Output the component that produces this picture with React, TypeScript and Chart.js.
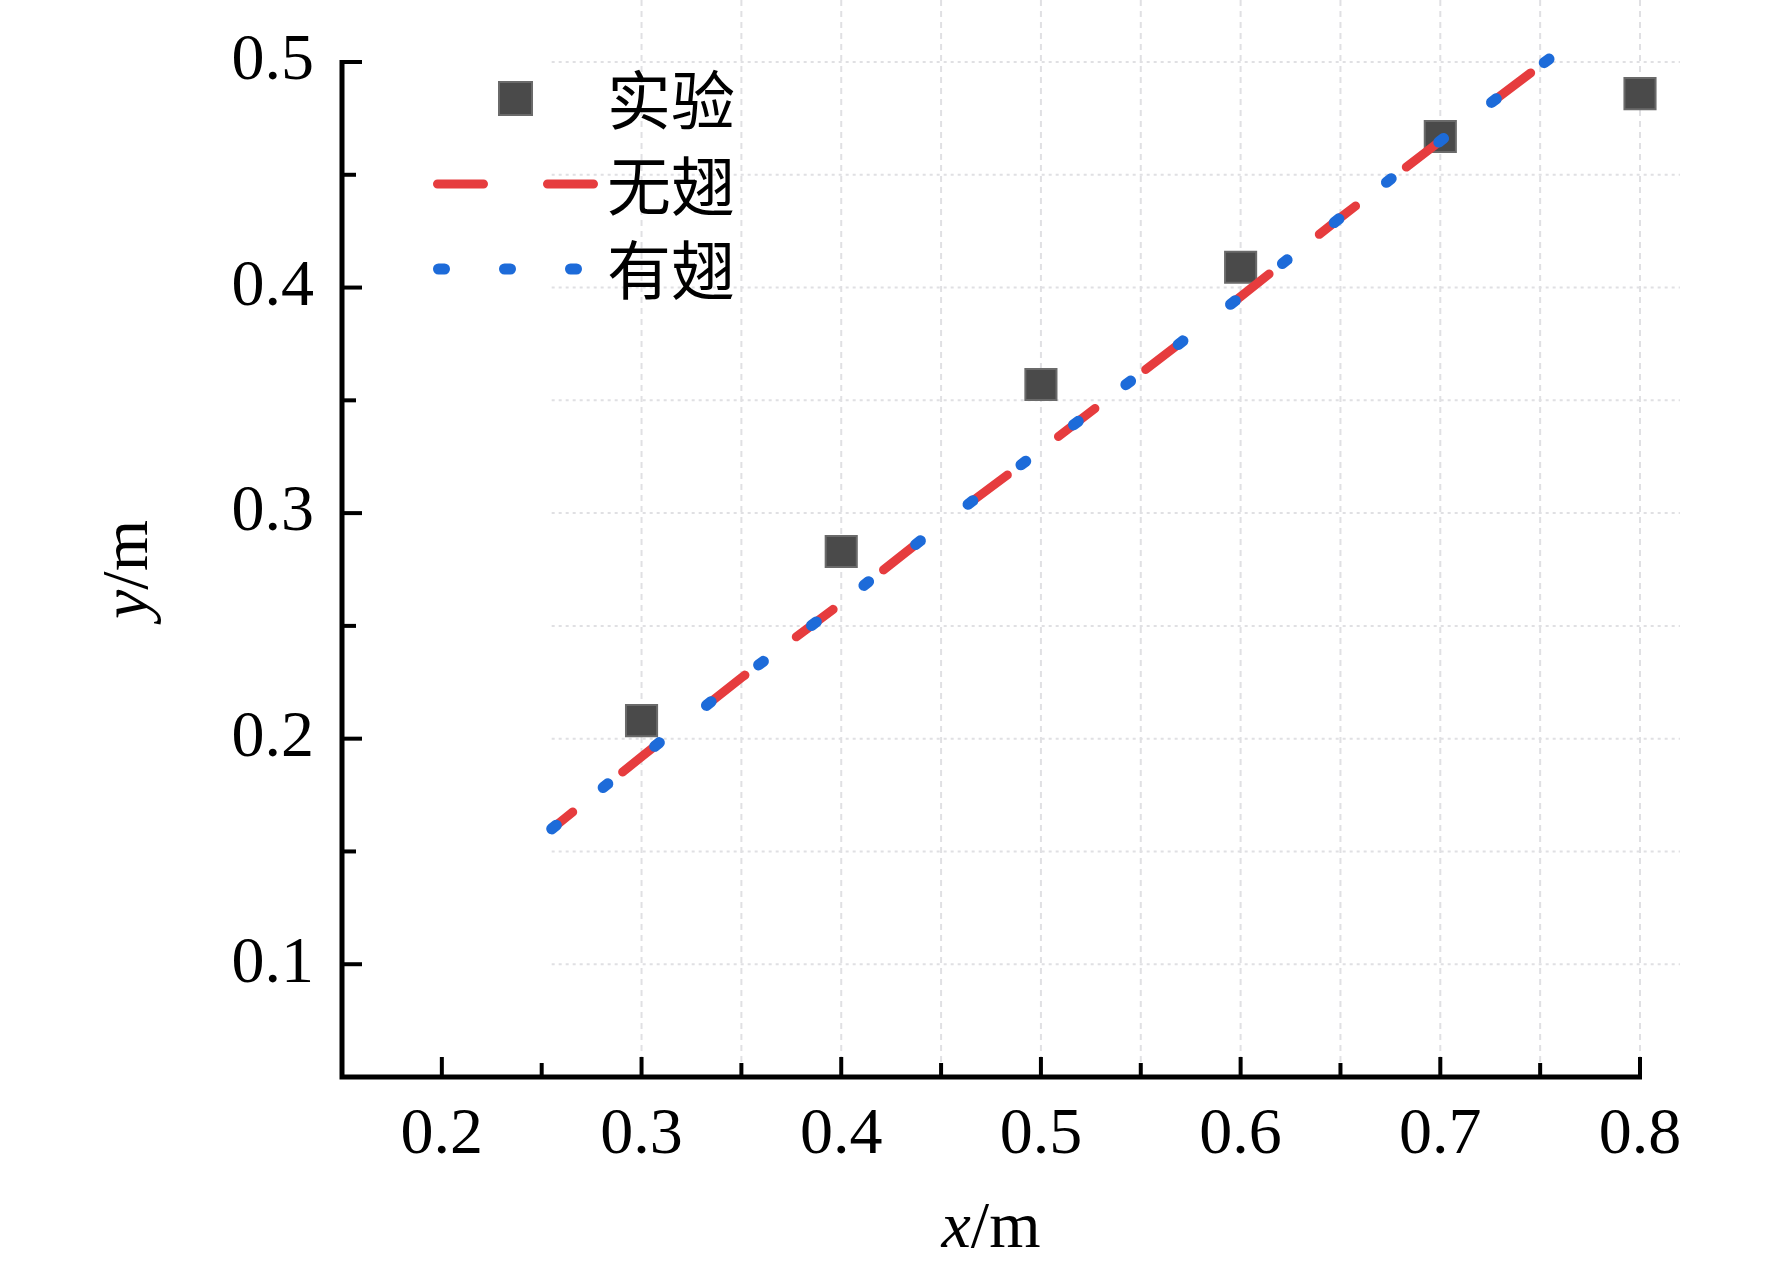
import { useEffect, useRef } from 'react';
import { Chart, registerables } from 'chart.js';

Chart.register(...registerables);

// measured points (x/m, y/m)
const expX = [0.3, 0.4, 0.5, 0.6, 0.7, 0.8];
const expY = [0.208, 0.283, 0.357, 0.409, 0.467, 0.486];

// simulated trajectories
const simX = [0.255, 0.3, 0.35, 0.4, 0.45, 0.5, 0.55, 0.6, 0.65, 0.7, 0.757];
const noWingY = [0.16, 0.192, 0.227, 0.26, 0.295, 0.328, 0.362, 0.396, 0.431, 0.465, 0.503];
const wingY = [0.16, 0.192, 0.227, 0.26, 0.295, 0.328, 0.362, 0.396, 0.431, 0.465, 0.503];

const seriesNames = ['实验', '无翅', '有翅'];

const xMajor = [0.2, 0.3, 0.4, 0.5, 0.6, 0.7, 0.8];
const xMinor = [0.25, 0.35, 0.45, 0.55, 0.65, 0.75];
const yMajor = [0.1, 0.2, 0.3, 0.4, 0.5];
const yMinor = [0.15, 0.25, 0.35, 0.45];
const gridX = [0.3, 0.35, 0.4, 0.45, 0.5, 0.55, 0.6, 0.65, 0.7, 0.75, 0.8];
const gridY = [0.1, 0.15, 0.2, 0.25, 0.3, 0.35, 0.4, 0.45, 0.5];

const SERIF = "'Liberation Serif', 'Times New Roman', serif";
const CJK = "'Noto Sans CJK SC', sans-serif";
const RED = '#e63c3e';
const BLUE = '#1d6bd9';
const GREY = '#4a4a4a';

const toPts = (xs: number[], ys: number[]) => xs.map((x, i) => ({ x, y: ys[i] }));

const framePlugin = {
  id: 'frame',
  beforeDatasetsDraw(chart: any) {
    const { ctx, scales } = chart;
    const { x, y } = scales;
    ctx.save();
    ctx.strokeStyle = '#e0e0e3';
    ctx.lineWidth = 2;
    ctx.setLineDash([6, 5]);
    const yb = y.getPixelForValue(0.05);
    gridX.forEach((v) => {
      const px = x.getPixelForValue(v);
      ctx.beginPath();
      ctx.moveTo(px, 0);
      ctx.lineTo(px, yb);
      ctx.stroke();
    });
    ctx.setLineDash([3, 4]);
    const xl = x.getPixelForValue(0.255);
    const xr = x.getPixelForValue(0.82);
    gridY.forEach((v) => {
      const py = y.getPixelForValue(v);
      ctx.beginPath();
      ctx.moveTo(xl, py);
      ctx.lineTo(xr, py);
      ctx.stroke();
    });
    ctx.restore();
  },
  afterDraw(chart: any) {
    const { ctx, scales, chartArea } = chart;
    const { x, y } = scales;
    const { left, right, top, bottom } = chartArea;
    ctx.save();
    ctx.strokeStyle = '#000';
    ctx.setLineDash([]);
    // axes
    ctx.lineWidth = 5;
    ctx.beginPath();
    ctx.moveTo(left, top - 2);
    ctx.lineTo(left, bottom);
    ctx.lineTo(right + 2, bottom);
    ctx.stroke();
    // inward ticks
    ctx.lineWidth = 4;
    const tick = (vals: number[], len: number, horiz: boolean) => {
      vals.forEach((v) => {
        ctx.beginPath();
        if (horiz) {
          const px = x.getPixelForValue(v);
          ctx.moveTo(px, bottom);
          ctx.lineTo(px, bottom - len);
        } else {
          const py = y.getPixelForValue(v);
          ctx.moveTo(left, py);
          ctx.lineTo(left + len, py);
        }
        ctx.stroke();
      });
    };
    tick(xMajor, 20, true);
    tick(xMinor, 14, true);
    tick(yMajor, 20, false);
    tick(yMinor, 14, false);

    // axis titles
    ctx.fillStyle = '#000';
    ctx.textBaseline = 'alphabetic';
    const title = (letter: string, cx: number) => {
      ctx.font = `italic 66px ${SERIF}`;
      const w1 = ctx.measureText(letter).width;
      ctx.font = `66px ${SERIF}`;
      const w2 = ctx.measureText('/m').width;
      const sx = cx - (w1 + w2) / 2;
      ctx.font = `italic 66px ${SERIF}`;
      ctx.fillText(letter, sx, 0);
      ctx.font = `66px ${SERIF}`;
      ctx.fillText('/m', sx + w1, 0);
    };
    ctx.save();
    ctx.translate(0, 1247);
    title('x', (left + right) / 2);
    ctx.restore();
    ctx.save();
    ctx.translate(147, (top + bottom) / 2);
    ctx.rotate(-Math.PI / 2);
    title('y', 0);
    ctx.restore();

    // legend
    const ds = chart.data.datasets;
    ctx.fillStyle = ds[0].backgroundColor;
    ctx.fillRect(499, 82, 33, 33);
    ctx.strokeStyle = ds[0].borderColor;
    ctx.lineWidth = 2;
    ctx.strokeRect(499, 82, 33, 33);
    ctx.lineCap = 'round';
    [
      { d: ds[1], y: 184, x0: 437.5, x1: 593.5 },
      { d: ds[2], y: 269, x0: 438.5, x1: 578 },
    ].forEach(({ d, y: ly, x0, x1 }) => {
      ctx.strokeStyle = d.borderColor;
      ctx.lineWidth = d.borderWidth;
      ctx.setLineDash(d.borderDash);
      ctx.lineDashOffset = 0;
      ctx.beginPath();
      ctx.moveTo(x0, ly);
      ctx.lineTo(x1, ly);
      ctx.stroke();
    });
    ctx.setLineDash([]);
    ctx.fillStyle = '#000';
    ctx.font = `64px ${CJK}`;
    [124, 210, 294].forEach((by, i) => ctx.fillText(ds[i].label, 607, by));
    ctx.restore();
  },
};

export default function App() {
  const ref = useRef<HTMLCanvasElement>(null);

  useEffect(() => {
    document.body.style.margin = '0';
    if (!ref.current) return () => {};
    const chart = new Chart(ref.current, {
      type: 'scatter',
      data: {
        datasets: [
          {
            label: seriesNames[0],
            data: toPts(expX, expY),
            pointStyle: 'rect',
            pointRadius: 22,
            pointHoverRadius: 22,
            backgroundColor: GREY,
            borderColor: '#6a6a6a',
            borderWidth: 2,
            clip: false,
            order: 3,
          },
          {
            label: seriesNames[1],
            data: toPts(simX, noWingY),
            showLine: true,
            pointRadius: 0,
            borderColor: RED,
            backgroundColor: RED,
            borderWidth: 9,
            borderDash: [46, 64],
            borderDashOffset: 19,
            borderCapStyle: 'round',
            clip: false,
            order: 2,
          },
          {
            label: seriesNames[2],
            data: toPts(simX, wingY),
            showLine: true,
            pointRadius: 0,
            borderColor: BLUE,
            backgroundColor: BLUE,
            borderWidth: 11,
            borderDash: [6, 60],
            borderDashOffset: 0,
            borderCapStyle: 'round',
            clip: false,
            order: 1,
          },
        ] as any,
      },
      options: {
        animation: false,
        responsive: true,
        maintainAspectRatio: false,
        layout: { padding: { top: 62, right: 132, left: 0, bottom: 0 } },
        plugins: { legend: { display: false }, tooltip: { enabled: false } },
        scales: {
          x: {
            type: 'linear',
            min: 0.15,
            max: 0.8,
            afterBuildTicks: (axis: any) => {
              axis.ticks = xMajor.map((value) => ({ value }));
            },
            afterFit: (axis: any) => {
              axis.height = 189;
              axis.paddingLeft = 0;
              axis.paddingRight = 0;
            },
            grid: { display: false, drawTicks: false },
            border: { display: false },
            ticks: {
              padding: 19,
              color: '#000',
              font: { family: SERIF, size: 66 },
              callback: (v: any) => Number(v).toFixed(1),
            },
          },
          y: {
            type: 'linear',
            min: 0.05,
            max: 0.5,
            afterBuildTicks: (axis: any) => {
              axis.ticks = yMajor.map((value) => ({ value }));
            },
            afterFit: (axis: any) => {
              axis.width = 342;
              axis.paddingTop = 0;
              axis.paddingBottom = 0;
            },
            grid: { display: false, drawTicks: false },
            border: { display: false },
            ticks: {
              padding: 28,
              color: '#000',
              font: { family: SERIF, size: 66 },
              callback: (v: any) => Number(v).toFixed(1),
            },
          },
        },
      },
      plugins: [framePlugin],
    });
    return () => {
      chart.destroy();
    };
  }, []);

  return (
    <div style={{ width: 1772, height: 1266, position: 'relative', background: '#fff' }}>
      <canvas ref={ref} />
    </div>
  );
}
